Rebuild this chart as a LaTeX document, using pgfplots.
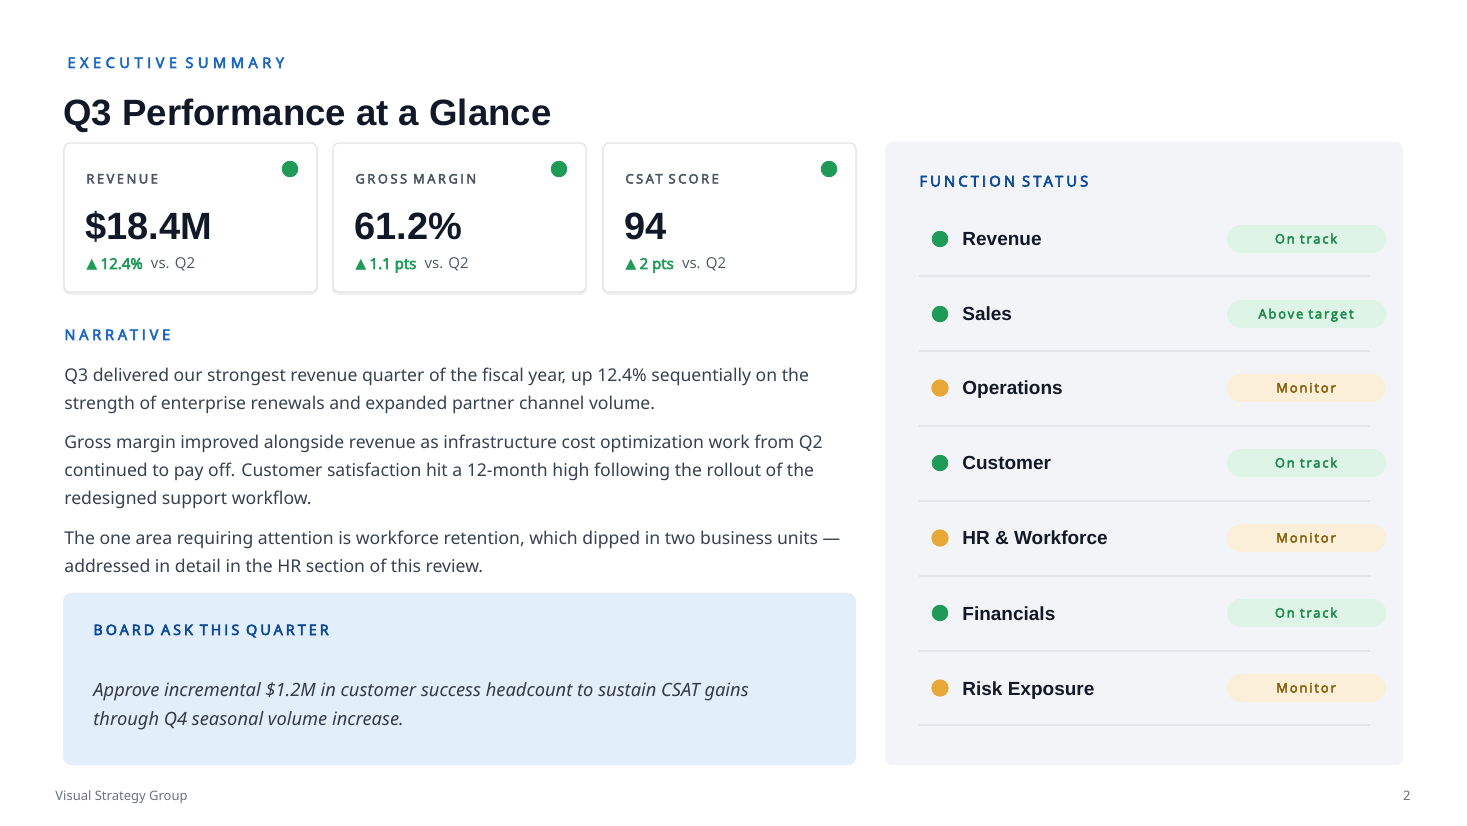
\documentclass[border=0pt]{standalone}
\usepackage{pgfplots}
\pgfplotsset{compat=1.18}
\usepackage{fontspec}
\setmainfont{Noto Sans}
\newfontfamily\arial{Liberation Sans}
\newfontfamily\dejavu{DejaVu Sans}
\newfontfamily\osans{Open Sans}
\newfontfamily\osansb{Open Sans}[FakeBold=4]
\newfontfamily\spacedA{Open Sans}[LetterSpace=31, FakeBold=4.2]
\newfontfamily\spacedN{Open Sans}[LetterSpace=26, FakeBold=4.2]
\newfontfamily\spacedB{Open Sans}[LetterSpace=21, FakeBold=4.2]
\newfontfamily\spacedK{Open Sans}[LetterSpace=19, FakeBold=3.8]
\newfontfamily\spacedC{Open Sans}[LetterSpace=14, FakeBold=3.8]
\definecolor{bluelab}{HTML}{1A66C2}
\definecolor{bluedark}{HTML}{0D4A96}
\definecolor{navy}{HTML}{111827}
\definecolor{graylab}{HTML}{4B5563}
\definecolor{bodytxt}{HTML}{374151}
\definecolor{okgreen}{HTML}{1F9A57}
\definecolor{warnorange}{HTML}{E8A838}
\definecolor{pillgreen}{HTML}{DDF4E6}
\definecolor{pillgreentxt}{HTML}{1E8A4C}
\definecolor{pillorange}{HTML}{FCEFD9}
\definecolor{pillorangetxt}{HTML}{86600C}
\definecolor{panelbg}{HTML}{F3F4F8}
\definecolor{boardbg}{HTML}{E3EEFB}
\definecolor{sep}{HTML}{E3E5EA}
\definecolor{cardborder}{HTML}{E2E4E8}
\definecolor{footgray}{HTML}{6B7280}
\newcommand\fsz[1]{\fontsize{#1}{#1}\selectfont}
\begin{document}
\begin{tikzpicture}
\begin{scope}[x=0.5pt, y=-0.5pt, shift={(0pt,412.5pt)}]
% background
\fill[white] (0,0) rectangle (1467,825);
% cards
\foreach \xa/\xb in {64/317, 333/586, 603/856}{
  \fill[black, opacity=0.06, rounded corners=3.5pt] (\xa-1,145) rectangle (\xb+1,295);
  \filldraw[fill=white, draw=cardborder, line width=0.6pt, rounded corners=3pt] (\xa,143) rectangle (\xb,292);
}
% right panel
\fill[panelbg, rounded corners=4pt] (885,142) rectangle (1403,765);
% board box
\fill[boardbg, rounded corners=4pt] (63,593) rectangle (856,765);
% separators
\foreach \y in {276,351,426,501,576,651,725}{
  \draw[sep, line width=0.7pt] (919,\y) -- (1370,\y);
}
% pills
\foreach \y/\c in {239/pillgreen, 314/pillgreen, 388/pillorange, 463/pillgreen, 538/pillorange, 613/pillgreen, 688/pillorange}{
  \fill[\c, rounded corners=7pt] (1227,\y-14) rectangle (1386,\y+14);
}
\end{scope}
\begin{axis}[
  at={(0pt,0pt)}, anchor=south west,
  width=733.5pt, height=412.5pt, scale only axis,
  xmin=0, xmax=1467, ymin=0, ymax=825, y dir=reverse,
  axis lines=none, ticks=none, clip=false,
]
% status dots (data)
\addplot[only marks, mark=*, mark size=3.9pt, color=okgreen] coordinates {
  (290,169) (559,169) (829,169)
  (940,239) (940,314) (940,463) (940,613)
};
\addplot[only marks, mark=*, mark size=4.1pt, color=warnorange] coordinates {
  (940,388) (940,538) (940,688)
};
\end{axis}
\begin{scope}[x=0.5pt, y=-0.5pt, shift={(0pt,412.5pt)}]
% header
\node[anchor=base west, inner sep=0, text=bluelab] at (67,68) {\spacedA\fsz{7.3}EXECUTIVE SUMMARY};
\node[anchor=base west, inner sep=0, text=navy] at (63,126) {\arial\bfseries\fsz{18.3}Q3 Performance at a Glance};
% card texts
\foreach \x/\lab/\val/\dl in {86/REVENUE/\$18.4M/12.4\%, 355/GROSS MARGIN/61.2\%/1.1 pts, 625/CSAT SCORE/94/2 pts}{
  \node[anchor=base west, inner sep=0, text=graylab] at (\x,183.5) {\spacedK\fsz{6.5}\lab};
  \node[anchor=base west, inner sep=0, text=navy] at (\x-1,240) {\arial\bfseries\fsz{19}\val};
  \node[anchor=base west, inner sep=0] at (\x,269) {\osans\fsz{7.5}{\color{okgreen}{\dejavu\fsz{7.2}\char"25B2}\kern1.6pt\osansb\dl}\hspace{0.55em}{\color{graylab}vs. Q2}};
}
% narrative
\node[anchor=base west, inner sep=0, text=bluelab] at (64,340) {\spacedN\fsz{7.3}NARRATIVE};
\foreach \y/\t in {
 382/{Q3 delivered our strongest revenue quarter of the fiscal year, up 12.4\% sequentially on the},
 410/{strength of enterprise renewals and expanded partner channel volume.},
 449/{Gross margin improved alongside revenue as infrastructure cost optimization work from Q2},
 477/{continued to pay off. Customer satisfaction hit a 12-month high following the rollout of the},
 505/{redesigned support workflow.},
 545/{The one area requiring attention is workforce retention, which dipped in two business units ---},
 573/{addressed in detail in the HR section of this review.}}{
  \node[anchor=base west, inner sep=0, text=bodytxt] at (64,\y) {\fsz{8.8}\t};
}
% board ask
\node[anchor=base west, inner sep=0, text=bluedark] at (93,635) {\spacedB\fsz{7.2}BOARD ASK THIS QUARTER};
\node[anchor=base west, inner sep=0, text=navy!85] at (93,697) {\itshape\fsz{9.15}Approve incremental \$1.2M in customer success headcount to sustain CSAT gains};
\node[anchor=base west, inner sep=0, text=navy!85] at (93,725) {\itshape\fsz{9.15}through Q4 seasonal volume increase.};
% function status
\node[anchor=base west, inner sep=0, text=bluedark] at (919,186.5) {\spacedB\fsz{7.4}FUNCTION STATUS};
\foreach \y/\n/\s/\c in {
 239/Revenue/On track/pillgreentxt,
 314/Sales/Above target/pillgreentxt,
 388/Operations/Monitor/pillorangetxt,
 463/Customer/On track/pillgreentxt,
 538/HR \& Workforce/Monitor/pillorangetxt,
 613/Financials/On track/pillgreentxt,
 688/Risk Exposure/Monitor/pillorangetxt}{
  \node[anchor=base west, inner sep=0, text=navy] at (962,\y+7) {\arial\bfseries\fsz{9.5}\n};
  \node[anchor=base, inner sep=0, text=\c] at (1306,\y+4.5) {\spacedC\fsz{6.5}\s};
}
% footer
\node[anchor=base west, inner sep=0, text=footgray] at (55,800) {\fsz{6.5}Visual Strategy Group};
\node[anchor=base east, inner sep=0, text=footgray] at (1411,800) {\fsz{6.5}2};
\end{scope}
\end{tikzpicture}
\end{document}
